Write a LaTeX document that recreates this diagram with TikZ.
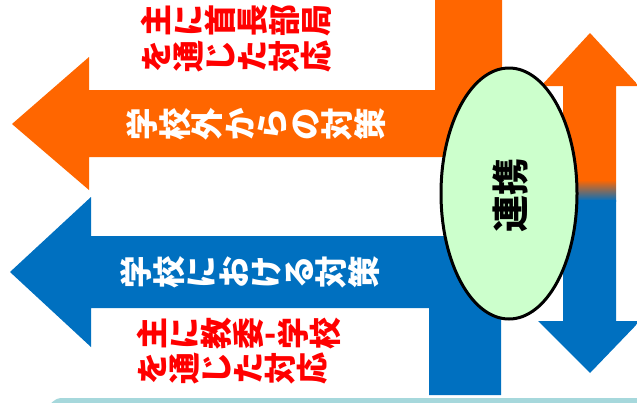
\documentclass[tikz,border=0pt]{standalone}
\usepackage{fontspec}
\usepackage{graphicx}
\usetikzlibrary{shapes.geometric}
\newfontfamily\cjk{Noto Sans CJK JP}
\newcommand\vch[1]{\rotatebox[origin=c]{90}{\makebox[1em]{\rule[-0.12em]{0pt}{1em}#1}}}
\ExplSyntaxOn
\NewDocumentCommand\rotline{m}{\tl_map_inline:nn{#1}{\vch{##1}}}
\ExplSyntaxOff
\definecolor{orng}{HTML}{FF6600}
\definecolor{blu}{HTML}{0070C0}
\definecolor{rd}{HTML}{FF0000}
\definecolor{grn}{HTML}{CCFFCC}
\definecolor{tealish}{HTML}{A6D8DC}
\tikzset{
  redtxt/.style={anchor=west, inner sep=0pt, text=rd, font=\cjk\bfseries\fontsize{32}{36}\selectfont},
  whitetxt/.style={inner sep=0pt, text=white, font=\cjk\bfseries\fontsize{32.5}{36}\selectfont},
}
\begin{document}
\begin{tikzpicture}[x=1pt,y=-1pt]
\useasboundingbox (0,0) rectangle (637,402);
% bottom rounded strip
\fill[tealish, rounded corners=14pt] (48,398) rectangle (700,470);
% orange arrow
\fill[orng] (435,-5) -- (502,-5) -- (502,157) -- (89,157) -- (89,190) -- (12,124) -- (89,57) -- (89,90) -- (435,90) -- cycle;
% blue arrow
\fill[blu] (429,395) -- (501,395) -- (501,236) -- (91,236) -- (91,197) -- (10,272) -- (91,347) -- (91,308) -- (429,308) -- cycle;
% double arrow with gradient
\begin{scope}
\clip (590,33) -- (639,86) -- (616,86) -- (616,321) -- (640,321) -- (590,373) -- (538,321) -- (563,321) -- (563,86) -- (541,86) -- cycle;
\fill[orng] (530,0) rectangle (645,180);
\shade[top color=orng, bottom color=blu] (530,180) rectangle (645,201);
\fill[blu] (530,200) rectangle (645,402);
\end{scope}
% ellipse
\node[draw=black, line width=3pt, fill=grn, ellipse, minimum width=136pt, minimum height=251pt, inner sep=0pt] (ell) at (509,193.5) {};
\node[rotate=90, inner sep=0pt, font=\cjk\bfseries\fontsize{37}{40}\selectfont] (renkei) at (510,195) {連携};
% texts
\node[whitetxt] (outside) at (256,124) {\rotline{学校外からの対策}};
\node[whitetxt] (inside) at (250,272) {\rotline{学校における対策}};
\node[redtxt] (r1) at (140,20) {\rotline{主に首長部局}};
\node[redtxt] (r2) at (140,56) {\rotline{を通じた対応}};
\node[redtxt] (r3) at (136,333) {\rotline{主に教委}\makebox[0.4em]{-}\rotline{学校}};
\node[redtxt] (r4) at (136,368) {\rotline{を通じた対応}};
\end{tikzpicture}
\end{document}
